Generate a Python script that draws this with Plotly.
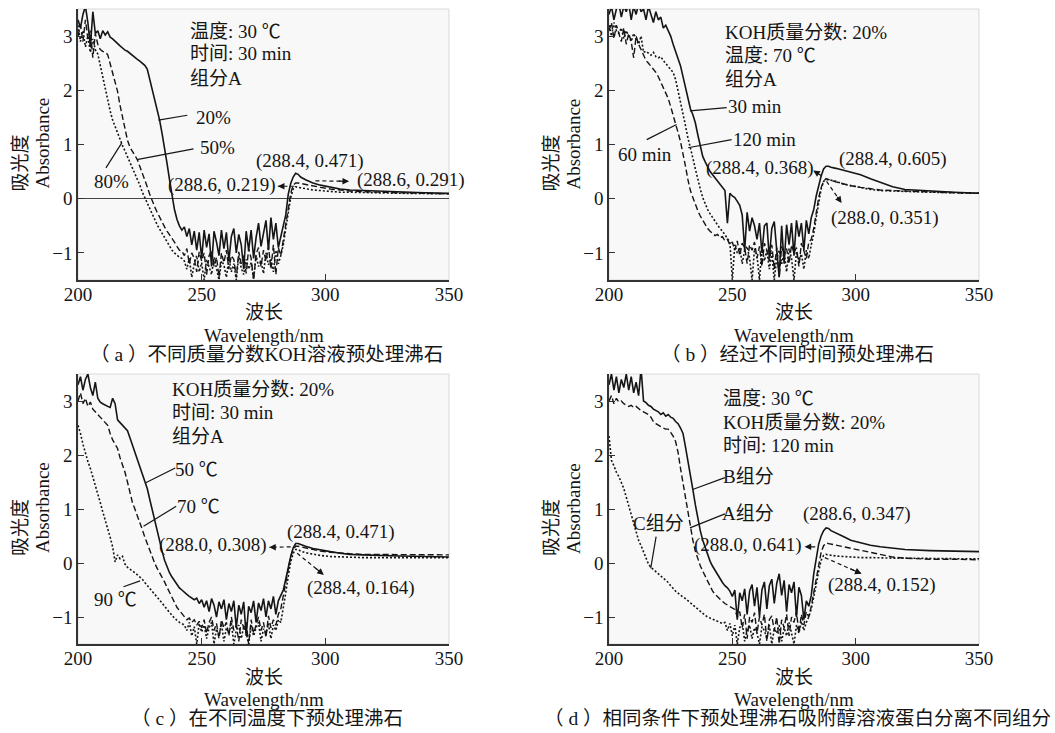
import plotly.graph_objects as go

# ---------------- data ----------------
WL = list(range(200, 291)) + [292, 295, 298, 302, 306, 310, 315, 320, 330, 340, 350]

# (a) KOH mass fraction
A_20 = [3.30, 3.15, 3.40, 3.55, 3.25, 2.80, 3.45, 3.05, 3.10, 2.95,
        3.10, 3.02, 3.08, 2.98, 2.95, 2.90, 2.86, 2.82, 2.78, 2.74,
        2.72, 2.68, 2.64, 2.60, 2.57, 2.54, 2.50, 2.46, 2.39, 2.20,
        2.00, 1.78, 1.60, 1.45, 1.20, 0.95, 0.65, 0.35, 0.05, -0.20,
        -0.38, -0.50, -0.58, -0.52, -0.70, -0.55, -0.85, -0.60, -0.95, -0.62,
        -1.10, -0.58, -0.90, -0.65, -1.25, -0.60, -0.80, -1.05, -0.58, -0.92,
        -0.62, -1.15, -0.70, -0.55, -1.00, -0.66, -0.85, -1.30, -0.60, -0.95,
        -0.58, -1.10, -0.72, -0.45, -0.88, -0.60, -0.40, -0.95, -0.35, -0.75,
        -0.45, -0.90, -0.70, -0.50, -0.30, 0.08, 0.28, 0.40, 0.47, 0.45,
        0.40,
        0.35, 0.29, 0.25, 0.21, 0.18, 0.16, 0.15, 0.14, 0.12, 0.11, 0.10]
A_50 = [3.00, 3.20, 2.90, 3.30, 2.95, 3.10, 2.60, 3.05, 2.85, 2.75,
        2.72, 2.70, 2.66, 2.50, 2.32, 2.17, 1.98, 1.72, 1.50, 1.28,
        1.08, 0.95, 0.86, 0.80, 0.72, 0.60, 0.48, 0.35, 0.22, 0.08,
        -0.05, -0.15, -0.25, -0.35, -0.42, -0.52, -0.60, -0.66, -0.72, -0.80,
        -0.88, -0.95, -0.97, -1.05, -0.92, -1.20, -1.00, -1.10, -1.35, -0.98,
        -1.15, -1.00, -1.40, -1.05, -0.95, -1.25, -1.08, -1.45, -1.00, -1.18,
        -0.95, -1.30, -1.05, -1.12, -1.45, -0.98, -1.20, -1.05, -1.38, -0.92,
        -1.10, -1.50, -1.02, -0.90, -1.25, -0.95, -1.15, -0.88, -1.30, -0.85,
        -1.40, -0.90, -1.05, -0.75, -0.45, -0.15, 0.10, 0.25, 0.29, 0.29,
        0.28,
        0.27, 0.24, 0.21, 0.18, 0.16, 0.14, 0.13, 0.12, 0.11, 0.10, 0.09]
A_80 = [3.20, 2.90, 3.10, 2.80, 3.00, 2.70, 2.95, 2.75, 2.67, 2.45,
        2.25, 2.05, 1.85, 1.62, 1.45, 1.33, 1.20, 1.08, 0.98, 0.88,
        0.78, 0.65, 0.55, 0.45, 0.35, 0.25, 0.12, 0.02, -0.10, -0.20,
        -0.30, -0.40, -0.48, -0.56, -0.64, -0.72, -0.80, -0.88, -0.95, -1.00,
        -1.05, -1.08, -1.10, -1.15, -1.30, -1.10, -1.45, -1.20, -1.05, -1.35,
        -1.18, -1.50, -1.12, -1.25, -1.40, -1.08, -1.30, -1.50, -1.15, -1.22,
        -1.45, -1.10, -1.35, -1.20, -1.50, -1.05, -1.28, -1.40, -1.12, -1.30,
        -1.18, -1.48, -1.05, -1.25, -1.15, -1.38, -1.00, -1.22, -1.10, -1.35,
        -0.95, -1.20, -1.05, -0.85, -0.55, -0.25, 0.02, 0.18, 0.22, 0.21,
        0.20,
        0.18, 0.16, 0.15, 0.13, 0.12, 0.12, 0.11, 0.11, 0.10, 0.10, 0.09]

# (b) pretreatment time
B_30 = [3.40, 3.55, 3.30, 3.50, 3.60, 3.35, 3.55, 3.45, 3.60, 3.30,
        3.55, 3.40, 3.60, 3.45, 3.50, 3.30, 3.55, 3.40, 3.25, 3.45,
        3.30, 3.35, 3.15, 3.20, 3.10, 3.00, 2.85, 2.70, 2.58, 2.45,
        2.25, 2.05, 1.82, 1.66, 1.55, 1.40, 1.18, 0.95, 0.78, 0.68,
        0.58, 0.50, 0.44, 0.38, 0.33, 0.28, 0.22, 0.15, -0.45, 0.10,
        0.05, 0.02, -0.05, -0.12, -0.30, -0.95, -0.25, -0.60, -0.35, -0.50,
        -0.75, -0.45, -1.00, -0.50, -0.45, -1.10, -0.55, -0.42, -0.95, -1.45,
        -0.50, -1.20, -0.48, -0.85, -0.45, -1.05, -0.40, -0.70, -0.45, -0.95,
        -0.40, -0.65, -0.35, -0.20, 0.05, 0.25, 0.42, 0.55, 0.60, 0.60,
        0.58,
        0.56, 0.52, 0.49, 0.44, 0.37, 0.30, 0.22, 0.17, 0.14, 0.12, 0.10]
B_60 = [3.10, 3.25, 2.95, 3.20, 3.05, 2.90, 3.15, 2.85, 3.05, 2.90,
        2.60, 3.00, 2.85, 2.75, 2.65, 2.55, 2.50, 2.45, 2.40, 2.33,
        2.25, 2.15, 2.08, 1.98, 1.85, 1.70, 1.55, 1.40, 1.22, 1.05,
        0.85, 0.60, 0.35, 0.15, 0.02, -0.12, -0.22, -0.32, -0.40, -0.48,
        -0.55, -0.60, -0.64, -0.68, -0.66, -0.72, -0.70, -0.78, -0.75, -0.85,
        -0.80, -0.95, -0.78, -1.05, -0.82, -0.90, -1.20, -0.85, -0.95, -0.80,
        -1.10, -0.88, -1.25, -0.82, -0.95, -1.15, -0.85, -1.30, -0.90, -1.45,
        -0.88, -1.05, -0.92, -1.20, -0.85, -1.00, -0.90, -1.25, -0.82, -0.95,
        -1.10, -0.80, -0.75, -0.55, -0.25, 0.02, 0.20, 0.32, 0.37, 0.36,
        0.34,
        0.31, 0.27, 0.24, 0.21, 0.18, 0.16, 0.15, 0.14, 0.12, 0.11, 0.10]
B_120 = [3.20, 3.00, 3.25, 3.10, 3.05, 3.15, 2.95, 3.10, 3.00, 2.90,
         3.05, 2.95, 2.85, 3.00, 2.70, 2.72, 2.68, 2.65, 2.70, 2.62,
         2.60, 2.62, 2.55, 2.50, 2.45, 2.40, 2.33, 2.20, 2.00, 1.80,
         1.58, 1.35, 1.12, 0.95, 0.75, 0.55, 0.35, 0.18, 0.02, -0.10,
         -0.20, -0.28, -0.35, -0.42, -0.48, -0.55, -0.60, -0.66, -0.72, -0.80,
         -1.50, -0.85, -1.00, -0.90, -1.20, -0.95, -0.88, -1.10, -1.50, -0.92,
         -1.05, -1.50, -0.90, -1.15, -0.95, -1.30, -1.00, -1.50, -1.10, -0.95,
         -1.20, -1.00, -1.35, -0.92, -1.10, -1.50, -0.98, -1.15, -1.02, -1.30,
         -0.95, -1.10, -0.85, -0.65, -0.35, -0.05, 0.18, 0.32, 0.35, 0.35,
         0.34,
         0.32, 0.27, 0.24, 0.20, 0.17, 0.15, 0.14, 0.13, 0.12, 0.11, 0.10]

# (c) pretreatment temperature
C_50 = [3.30, 3.45, 3.20, 3.40, 3.50, 3.25, 3.10, 3.35, 3.05, 2.98,
        2.95, 2.92, 2.90, 2.88, 3.05, 2.95, 2.65, 2.60, 2.55, 2.50,
        2.45, 2.32, 2.18, 2.05, 1.92, 1.78, 1.65, 1.52, 1.38, 1.18,
        0.98, 0.78, 0.58, 0.40, 0.22, 0.05, -0.08, -0.18, -0.26, -0.33,
        -0.40, -0.46, -0.50, -0.55, -0.58, -0.62, -0.65, -0.68, -0.65, -0.75,
        -0.68, -0.82, -0.70, -0.90, -0.66, -0.78, -1.00, -0.72, -0.85, -0.68,
        -1.05, -0.75, -0.90, -0.70, -1.20, -0.78, -0.95, -0.72, -1.35, -0.80,
        -0.92, -0.70, -1.10, -0.74, -0.88, -0.66, -1.00, -0.70, -0.85, -0.62,
        -0.95, -0.70, -0.60, -0.50, -0.30, -0.08, 0.12, 0.28, 0.36, 0.36,
        0.34,
        0.31, 0.27, 0.24, 0.21, 0.18, 0.16, 0.15, 0.14, 0.13, 0.12, 0.11]
C_70 = [3.00, 3.15, 2.95, 3.05, 2.90, 2.98, 2.85, 2.80, 2.75, 2.70,
        2.65, 2.60, 2.55, 2.40, 2.28, 2.20, 2.12, 1.95, 1.82, 1.68,
        1.50, 1.30, 1.12, 1.00, 0.88, 0.76, 0.62, 0.48, 0.35, 0.22,
        0.10, 0.00, -0.10, -0.18, -0.26, -0.35, -0.45, -0.55, -0.65, -0.74,
        -0.82, -0.88, -0.94, -1.00, -1.05, -1.02, -1.10, -1.05, -1.15, -1.08,
        -1.20, -1.05, -1.30, -1.10, -1.00, -1.25, -1.12, -1.40, -1.05, -1.20,
        -1.10, -1.35, -1.00, -1.25, -1.15, -1.45, -1.05, -1.20, -1.10, -1.50,
        -1.05, -1.30, -1.15, -1.00, -1.25, -1.10, -1.38, -0.98, -1.20, -1.05,
        -1.15, -0.95, -0.85, -0.62, -0.35, -0.10, 0.12, 0.25, 0.31, 0.31,
        0.30,
        0.28, 0.25, 0.22, 0.20, 0.18, 0.17, 0.16, 0.16, 0.15, 0.15, 0.15]
C_90 = [2.55, 2.40, 2.20, 2.02, 1.88, 1.75, 1.60, 1.45, 1.28, 1.12,
        0.95, 0.80, 0.62, 0.48, 0.30, 0.02, 0.15, 0.08, 0.12, -0.02,
        -0.08, -0.12, -0.15, -0.18, -0.22, -0.25, -0.30, -0.36, -0.42, -0.48,
        -0.54, -0.58, -0.63, -0.68, -0.74, -0.80, -0.86, -0.92, -0.98, -1.02,
        -1.06, -1.10, -1.12, -1.15, -1.25, -1.10, -1.35, -1.18, -1.50, -1.12,
        -1.28, -1.15, -1.40, -1.20, -1.10, -1.50, -1.22, -1.35, -1.12, -1.45,
        -1.20, -1.30, -1.10, -1.50, -1.25, -1.15, -1.40, -1.18, -1.30, -1.50,
        -1.15, -1.35, -1.20, -1.10, -1.45, -1.22, -1.30, -1.12, -1.40, -1.15,
        -1.25, -1.05, -1.10, -0.85, -0.55, -0.25, 0.02, 0.18, 0.25, 0.25,
        0.22,
        0.19, 0.16, 0.14, 0.12, 0.11, 0.11, 0.10, 0.10, 0.10, 0.10, 0.10]

# (d) fractions B, A, C
D_B = [3.30, 3.50, 3.20, 3.45, 3.15, 3.40, 3.25, 3.50, 3.20, 3.45,
       3.15, 3.35, 3.10, 3.60, 3.00, 2.97, 2.92, 2.90, 2.85, 2.82,
       2.80, 2.75, 2.78, 2.72, 2.75, 2.70, 2.68, 2.62, 2.58, 2.50,
       2.40, 2.15, 1.86, 1.60, 1.36, 1.08, 0.80, 0.60, 0.42, 0.28,
       0.15, 0.03, -0.06, -0.14, -0.22, -0.30, -0.36, -0.42, -0.46, -0.52,
       -0.62, -0.50, -1.05, -0.55, -0.70, -0.48, -0.95, -0.52, -0.40, -0.80,
       -0.45, -1.00, -0.50, -0.35, -0.85, -0.42, -0.30, -0.75, -0.38, -0.20,
       -0.60, -0.32, -0.90, -0.40, -0.55, -0.35, -1.00, -0.45, -0.60, -1.05,
       -0.70, -0.80, -0.60, -0.20, 0.10, 0.35, 0.50, 0.60, 0.65, 0.64,
       0.60,
       0.56, 0.49, 0.42, 0.37, 0.33, 0.30, 0.27, 0.25, 0.23, 0.22, 0.21]
D_A = [3.00, 3.10, 2.95, 3.05, 2.98, 3.00, 2.95, 2.92, 2.90, 2.92,
       2.88, 2.90, 2.85, 2.82, 2.80, 2.78, 2.75, 2.70, 2.62, 2.58,
       2.55, 2.52, 2.50, 2.48, 2.48, 2.42, 2.35, 2.25, 2.05, 1.75,
       1.48, 1.18, 0.92, 0.65, 0.42, 0.22, 0.08, -0.05, -0.15, -0.25,
       -0.35, -0.45, -0.52, -0.58, -0.63, -0.67, -0.71, -0.75, -0.78, -0.80,
       -0.83, -0.86, -1.00, -0.90, -1.20, -0.95, -1.40, -1.00, -1.10, -0.92,
       -1.30, -1.00, -1.15, -0.95, -1.45, -1.05, -0.98, -1.25, -1.00, -1.50,
       -1.05, -1.20, -0.95, -1.35, -1.00, -1.10, -0.90, -1.30, -0.95, -1.15,
       -0.90, -1.00, -0.80, -0.55, -0.25, 0.02, 0.20, 0.32, 0.37, 0.36,
       0.35,
       0.33, 0.31, 0.28, 0.24, 0.19, 0.15, 0.11, 0.09, 0.07, 0.07, 0.06]
D_C = [2.35, 1.90, 1.80, 1.68, 1.60, 1.50, 1.38, 1.22, 1.05, 0.90,
       0.72, 0.55, 0.42, 0.32, 0.20, 0.08, -0.02, -0.08, -0.12, -0.16,
       -0.20, -0.24, -0.28, -0.32, -0.36, -0.42, -0.48, -0.52, -0.56, -0.60,
       -0.63, -0.66, -0.70, -0.74, -0.78, -0.82, -0.86, -0.90, -0.94, -0.97,
       -1.00, -1.02, -1.04, -1.06, -1.08, -1.10, -1.12, -1.10, -1.25, -1.12,
       -1.35, -1.15, -1.50, -1.20, -1.10, -1.45, -1.25, -1.15, -1.40, -1.20,
       -1.30, -1.50, -1.18, -1.25, -1.40, -1.15, -1.50, -1.22, -1.30, -1.15,
       -1.45, -1.20, -1.35, -1.10, -1.28, -1.50, -1.15, -1.30, -1.08, -1.25,
       -1.10, -1.00, -0.85, -0.65, -0.40, -0.15, 0.05, 0.14, 0.16, 0.15,
       0.14,
       0.13, 0.12, 0.11, 0.10, 0.10, 0.09, 0.09, 0.09, 0.08, 0.08, 0.08]

X_TICKS = [200, 250, 300, 350]
Y_TICKS = [-1, 0, 1, 2, 3]
Y_TICKTEXT = ["\u22121", "0", "1", "2", "3"]

for _n, _s in [("A_20", A_20), ("A_50", A_50), ("A_80", A_80), ("B_30", B_30),
               ("B_60", B_60), ("B_120", B_120), ("C_50", C_50), ("C_70", C_70),
               ("C_90", C_90), ("D_B", D_B), ("D_A", D_A), ("D_C", D_C)]:
    if len(_s) != len(WL):
        raise ValueError(f"{_n}: {len(_s)} != {len(WL)}")

# ---------------- layout helpers ----------------
W, H = 1055, 733
FONT = "Liberation Serif, Noto Sans CJK SC, serif"
INK = "#151515"
STYLE = {"solid": dict(dash="solid", width=1.6),
         "dash": dict(dash="6px,3px", width=1.4),
         "dot": dict(dash="2px,2px", width=1.6)}
TXT = 19
CAP = 19.5

def px(x):
    return x / W

def py(y):
    return 1 - y / H

PANELS = [
    dict(xpx=(78, 449), ypx=(9, 280), zero=True,
         series=[("20%", A_20, "solid"), ("50%", A_50, "dash"), ("80%", A_80, "dot")],
         texts=[("温度: 30 ℃", 244.6, 3.09, "left"), ("时间: 30 min", 244.6, 2.67, "left"),
                ("组分A", 244.6, 2.22, "left"), ("20%", 254.7, 1.50, "center"),
                ("50%", 256.6, 0.95, "center"), ("80%", 213.6, 0.32, "center"),
                ("(288.4, 0.471)", 294.0, 0.69, "center"), ("(288.6, 0.219)", 258.2, 0.25, "center"),
                ("(288.6, 0.291)", 334.5, 0.35, "center")],
         pointers=[(232.5, 1.45, 244.2, 1.54), (223.8, 0.72, 246.7, 0.92), (217.7, 1.03, 211.3, 0.57)],
         arrows=[(287.5, 0.23, 280.8, 0.23, True), (296.0, 0.33, 309.6, 0.32, True)],
         caption="（ a ）不同质量分数KOH溶液预处理沸石"),
    dict(xpx=(609, 979), ypx=(9, 280), zero=False,
         series=[("30 min", B_30, "solid"), ("60 min", B_60, "dash"), ("120 min", B_120, "dot")],
         texts=[("KOH质量分数: 20%", 246.3, 3.07, "left"), ("温度: 70 ℃", 246.3, 2.64, "left"),
                ("组分A", 246.3, 2.20, "left"), ("30 min", 259.2, 1.71, "center"),
                ("120 min", 263.2, 1.10, "center"), ("60 min", 214.6, 0.81, "center"),
                ("(288.4, 0.368)", 261.2, 0.57, "center"), ("(288.4, 0.605)", 315.3, 0.73, "center"),
                ("(288.0, 0.351)", 311.9, -0.36, "center")],
         pointers=[(247.7, 1.68, 232.8, 1.62), (249.7, 1.09, 232.1, 0.94), (215.3, 1.09, 227.4, 1.37)],
         arrows=[(286.9, 0.40, 282.8, 0.52, False), (288.2, 0.32, 294.3, -0.08, True)],
         caption="（ b ）经过不同时间预处理沸石"),
    dict(xpx=(78, 449), ypx=(374, 644), zero=False,
         series=[("50 ℃", C_50, "solid"), ("70 ℃", C_70, "dash"), ("90 ℃", C_90, "dot")],
         texts=[("KOH质量分数: 20%", 237.3, 3.21, "left"), ("时间: 30 min", 237.3, 2.79, "left"),
                ("组分A", 237.3, 2.35, "left"), ("50 ℃", 248.1, 1.73, "center"),
                ("70 ℃", 248.8, 1.05, "center"), ("90 ℃", 215.0, -0.68, "center"),
                ("(288.4, 0.471)", 306.2, 0.58, "center"), ("(288.0, 0.308)", 254.4, 0.34, "center"),
                ("(288.4, 0.164)", 314.3, -0.47, "center")],
         pointers=[(239.3, 1.76, 227.2, 1.48), (239.7, 1.05, 226.5, 0.68), (218.4, -0.44, 225.1, -0.33)],
         arrows=[(286.0, 0.30, 277.3, 0.29, True), (288.6, 0.18, 299.4, -0.22, True)],
         caption="（ c ）在不同温度下预处理沸石"),
    dict(xpx=(609, 979), ypx=(374, 644), zero=False,
         series=[("B组分", D_B, "solid"), ("A组分", D_A, "dash"), ("C组分", D_C, "dot")],
         texts=[("温度: 30 ℃", 245.3, 3.05, "left"), ("KOH质量分数: 20%", 245.3, 2.61, "left"),
                ("时间: 120 min", 245.3, 2.18, "left"), ("B组分", 256.5, 1.60, "center"),
                ("A组分", 256.5, 0.91, "center"), ("C组分", 220.0, 0.73, "center"),
                ("(288.6, 0.347)", 300.4, 0.91, "center"), ("(288.0, 0.641)", 256.5, 0.34, "center"),
                ("(288.4, 0.152)", 310.5, -0.41, "center")],
         pointers=[(247.0, 1.58, 233.9, 1.36), (247.0, 0.91, 232.8, 0.65), (219.1, 0.49, 216.9, -0.10)],
         arrows=[(284.2, 0.30, 279.3, 0.30, False), (287.5, 0.10, 302.4, -0.20, True)],
         caption="（ d ）相同条件下预处理沸石吸附醇溶液蛋白分离不同组分"),
]

fig = go.Figure()
layout = dict(width=W, height=H, margin=dict(l=0, r=0, t=0, b=0, autoexpand=False),
              paper_bgcolor="white", plot_bgcolor="#f8f8f8", showlegend=False,
              font=dict(family=FONT, size=TXT, color=INK))
annotations = []
shapes = []

for i, p in enumerate(PANELS):
    sfx = "" if i == 0 else str(i + 1)
    xr, yr = "x" + sfx, "y" + sfx
    x0, x1 = p["xpx"]
    yt, yb = p["ypx"]
    layout["xaxis" + sfx] = dict(
        domain=[px(x0), px(x1)], anchor=yr, range=[200, 350], automargin=False,
        tickvals=X_TICKS, ticks="inside", ticklen=6, tickwidth=1.2, tickcolor="#333",
        ticklabelstandoff=-4,
        showline=True, linecolor="#333", linewidth=1.5, showgrid=False, zeroline=False,
        tickfont=dict(family=FONT, size=TXT, color=INK))
    layout["yaxis" + sfx] = dict(
        domain=[py(yb), py(yt)], anchor=xr, range=[-1.5, 3.5], automargin=False,
        tickvals=Y_TICKS, ticktext=Y_TICKTEXT, ticks="inside", ticklen=6, tickwidth=1.2,
        tickcolor="#333", showline=True, linecolor="#333", linewidth=1.5, showgrid=False,
        zeroline=p["zero"], zerolinecolor="#444", zerolinewidth=1.3,
        tickfont=dict(family=FONT, size=TXT, color=INK))
    shapes.append(dict(type="rect", xref=xr + " domain", yref=yr + " domain",
                       x0=0, x1=1, y0=0, y1=1, line=dict(color="#d9d9d9", width=1), layer="below"))
    for name, ys, st in p["series"]:
        fig.add_trace(go.Scatter(x=WL, y=ys, mode="lines", name=name, xaxis=xr, yaxis=yr,
                                 line=dict(color=INK, **STYLE[st])))
    for txt, tx, ty, anc in p["texts"]:
        annotations.append(dict(text=txt, x=tx, y=ty, xref=xr, yref=yr, xanchor=anc,
                                yanchor="middle", showarrow=False,
                                font=dict(family=FONT, size=TXT, color=INK)))
    for a, b, c, d in p["pointers"]:
        shapes.append(dict(type="line", xref=xr, yref=yr, x0=a, y0=b, x1=c, y1=d,
                           line=dict(color=INK, width=1.2)))
    for a, b, c, d, dashed in p["arrows"]:
        if dashed:
            shapes.append(dict(type="line", xref=xr, yref=yr, x0=a, y0=b, x1=c, y1=d,
                               line=dict(color=INK, width=1.2, dash="4px,3px")))
            sa, sb = c + (a - c) * 0.35, d + (b - d) * 0.35
        else:
            sa, sb = a, b
        annotations.append(dict(text="", x=c, y=d, ax=sa, ay=sb, xref=xr, yref=yr,
                                axref=xr, ayref=yr, showarrow=True, arrowhead=2,
                                arrowsize=1.1, arrowwidth=1.2, arrowcolor=INK, standoff=0))
    ymid = (yt + yb) / 2
    cxp = px((x0 + x1) / 2)
    annotations.append(dict(text="吸光度", x=px(x0 - 58), y=py(ymid + 19), xref="paper", yref="paper",
                            textangle=-90, showarrow=False, xanchor="center", yanchor="middle",
                            font=dict(family=FONT, size=TXT, color=INK)))
    annotations.append(dict(text="Absorbance", x=px(x0 - 36), y=py(ymid - 1), xref="paper", yref="paper",
                            textangle=-90, showarrow=False, xanchor="center", yanchor="middle",
                            font=dict(family=FONT, size=TXT, color=INK)))
    annotations.append(dict(text="波长", x=cxp, y=py(yb + 33), xref="paper", yref="paper",
                            showarrow=False, xanchor="center", yanchor="middle",
                            font=dict(family=FONT, size=TXT, color=INK)))
    annotations.append(dict(text="Wavelength/nm", x=cxp, y=py(yb + 55), xref="paper",
                            yref="paper", showarrow=False, xanchor="center", yanchor="middle",
                            font=dict(family=FONT, size=TXT, color=INK)))
    annotations.append(dict(text=p["caption"], x=px((x0 + x1) / 2 + 3), y=py(yb + 74), xref="paper",
                            yref="paper", showarrow=False, xanchor="center", yanchor="middle",
                            font=dict(family=FONT, size=CAP, color=INK)))

layout["annotations"] = annotations
layout["shapes"] = shapes
fig.update_layout(**layout)
fig.write_html("out.html", config={"displayModeBar": False},
               post_script="document.body.style.margin='0';document.body.style.overflow='hidden';")
